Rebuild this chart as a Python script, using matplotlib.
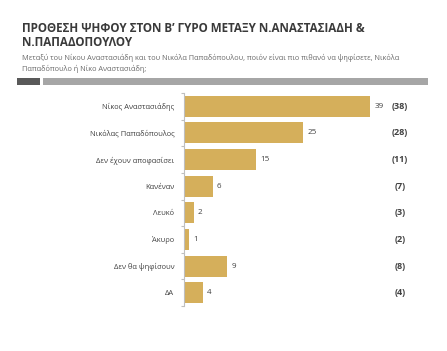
import matplotlib
matplotlib.use("Agg")
import matplotlib.pyplot as plt
from matplotlib.patches import Rectangle

W, H = 447, 351

categories = ["Νίκος Αναστασιάδης", "Νικόλας Παπαδόπουλος", "Δεν έχουν αποφασίσει",
              "Κανέναν", "Λευκό", "Άκυρο", "Δεν θα ψηφίσουν", "ΔΑ"]
current = [39, 25, 15, 6, 2, 1, 9, 4]
previous = [38, 28, 11, 7, 3, 2, 8, 4]
period = "12/2017"
title = "ΠΡΟΘΕΣΗ ΨΗΦΟΥ ΣΤΟΝ Β’ ΓΥΡΟ ΜΕΤΑΞΥ Ν.ΑΝΑΣΤΑΣΙΑΔΗ &\nΝ.ΠΑΠΑΔΟΠΟΥΛΟΥ"
subtitle = ("Μεταξύ του Νίκου Αναστασιάδη και του Νικόλα Παπαδόπουλου, ποιόν είναι πιο πιθανό να ψηφίσετε, Νικόλα\n"
            "Παπαδόπουλο ή Νίκο Αναστασιάδη;")

BAR = "#D5AF5B"
plt.rcParams["font.family"] = ["Open Sans", "DejaVu Sans"]

fig = plt.figure(figsize=(W / 100, H / 100), dpi=100)


def fx(px):
    return px / W


def fy(py):
    return 1 - py / H


fig.text(fx(22), fy(22), title, fontsize=8.4, fontweight="bold", color="#3a3a3a",
         va="top", ha="left", linespacing=1.15)
fig.text(fx(22), fy(54), subtitle, fontsize=5.3, color="#6b6b6b",
         va="top", ha="left", linespacing=1.4)
fig.patches.append(Rectangle((fx(17), fy(85)), fx(23), 7 / H, transform=fig.transFigure,
                             color="#595959", lw=0))
fig.patches.append(Rectangle((fx(43), fy(85)), fx(385), 7 / H, transform=fig.transFigure,
                             color="#a6a6a6", lw=0))

ax = fig.add_axes([fx(184), fy(306), fx(244), 213 / H])
y = range(len(categories))
ax.barh(y, current, height=0.79, color=BAR, lw=0)
ax.set_xlim(0, 244 / 4.77)
ax.set_ylim(len(categories) - 0.5, -0.5)

for s in ["top", "right", "bottom"]:
    ax.spines[s].set_visible(False)
ax.spines["left"].set_color("#bfbfbf")
ax.spines["left"].set_linewidth(0.8)
ax.set_xticks([])
ax.set_yticks(list(y))
ax.set_yticklabels(categories, fontsize=5.4, color="#404040")
ax.tick_params(axis="y", which="major", length=0, pad=7)
ax.set_yticks([i - 0.5 for i in range(len(categories) + 1)], minor=True)
ax.tick_params(axis="y", which="minor", length=2.5, color="#bfbfbf", width=0.8)

for i, v in enumerate(current):
    ax.text(v + 0.9, i, str(v), fontsize=5.8, color="#404040", va="center", ha="left")
    ax.annotate(f"({previous[i]})", xy=(fx(400), i), xycoords=("figure fraction", "data"),
                fontsize=6.5, fontweight="bold", color="#404040", va="center", ha="center")

ax.annotate(period, xy=(fx(400), -0.95), xycoords=("figure fraction", "data"),
            fontsize=6.5, fontweight="bold", color="#B54A48", va="center", ha="center",
            annotation_clip=False)

fig.savefig("out.png", dpi=100)
